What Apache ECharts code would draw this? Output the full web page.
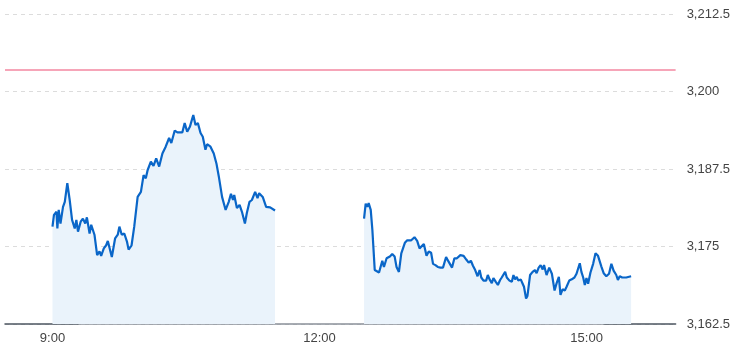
<!DOCTYPE html>
<html>
<head>
<meta charset="utf-8">
<script src="https://cdn.jsdelivr.net/npm/echarts@6/dist/echarts.min.js"></script>
<style>
html,body{margin:0;padding:0;background:#fff;}
#chart{width:733px;height:353px;}
</style>
</head>
<body>
<div id="chart"></div>
<script>
// Morning session (minutes after 9:00) and values
const morningMinutes = [0,1,2.7,3.3,4.2,5.4,7.1,8.3,10,11.6,13.2,15,16.1,17.2,19,20.5,22.1,23.2,25,26.1,28.3,30.1,31.7,32.8,34.6,36.2,37.3,40,42.2,44,45.1,46.7,48.4,50.2,51.3,53.3,55.1,57.4,58.5,59.6,61.4,62.9,64.1,65.2,66.3,68.1,69.9,71.9,74.1,76.3,78.6,80.1,82.4,84.2,87.5,89.1,90.8,92.6,94.9,96.4,98,99.8,101.3,103.1,104.2,106.5,108.7,110.5,112.1,114.3,115.4,116.7,118.8,120.3,121.7,122.5,124.3,126.1,127.7,129.7,131,132.8,134.4,136.6,138.2,139.3,141.7,144,146.7,150];
const morningValues = [3178.2,3180.1,3180.6,3177.9,3180.9,3178.7,3181.4,3182.2,3185.2,3182.5,3179.3,3177.9,3179.3,3177.4,3179.0,3179.5,3178.7,3179.7,3177.1,3178.5,3176.9,3173.6,3174.2,3173.5,3174.7,3175.2,3175.9,3173.3,3176.3,3176.9,3178.2,3176.9,3177.1,3175.8,3174.5,3175.2,3178.2,3183.0,3182.8,3183.8,3186.5,3186.0,3187.3,3187.1,3188.7,3188.0,3189.2,3187.9,3190.0,3191.1,3192.5,3191.7,3193.7,3193.4,3193.4,3194.9,3193.5,3194.3,3196.2,3194.6,3194.9,3193.3,3192.7,3190.6,3191.5,3191.1,3190.0,3188.4,3186.3,3183.0,3183.3,3180.9,3182.2,3183.5,3182.5,3183.3,3181.2,3181.7,3180.6,3178.7,3180.4,3182.2,3182.5,3183.8,3182.8,3183.6,3183.0,3181.4,3181.3,3180.8];

// Afternoon session (minutes after 12:30) and values
const afternoonMinutes = [0,1.1,2.2,3.1,4.5,5.6,7.2,8.5,10.1,11.2,12.3,13.4,15.2,17.4,19,20.6,21.9,23.5,25.1,26.4,27.5,29.1,30.2,31.8,34,35.8,37.4,38.5,40.3,42.1,43.6,45.2,46.5,48.1,49.7,51.5,53.2,55.3,56.4,57.7,59.3,60.9,62.6,64.9,67.1,68.9,70.5,72,73.4,74.9,76.5,77.9,79,80.5,82.3,83.4,84.6,86.1,87.2,88.8,90.2,91.7,92.8,94,95.1,96.2,98,99.6,100.7,101.8,102.9,104,105.6,106.9,107.8,109.2,110.1,111.9,113.6,115.2,116.3,117.7,119,120.4,121.3,123,124.8,126.6,128.4,129.8,131.3,132.4,133.8,135.3,136.5,138.3,140,141.8,143.2,144.5,145.4,146.5,147.7,148.8,149.9,151,152.6,154.4,156,157.7,158.8,159.9,161.5,163.3,165.1,166.7,168.2,170,171.1,172.3,174,176.7,180];
const afternoonValues = [3179.5,3181.9,3181.4,3182.0,3180.9,3177.7,3171.2,3170.9,3170.8,3170.5,3172.7,3171.7,3173.1,3173.4,3173.8,3173.4,3171.7,3170.9,3173.9,3174.0,3175.6,3176.0,3176.3,3176.0,3176.5,3175.9,3174.7,3174.9,3175.4,3173.5,3174.2,3174.0,3172.2,3172.0,3171.7,3171.6,3171.6,3173.3,3172.8,3173.1,3171.6,3173.1,3173.1,3173.6,3173.5,3172.9,3172.4,3172.7,3171.9,3171.2,3170.2,3171.2,3170.0,3169.5,3169.5,3170.4,3169.7,3169.1,3169.9,3169.3,3168.8,3169.6,3170.0,3169.7,3170.9,3170.0,3169.5,3169.3,3170.4,3169.7,3170.1,3169.5,3169.7,3169.0,3168.5,3166.6,3167.0,3170.4,3170.9,3171.2,3170.7,3171.6,3172.0,3171.3,3172.0,3170.4,3171.6,3170.6,3167.9,3169.1,3170.1,3167.2,3168.1,3167.9,3168.5,3169.5,3169.7,3170.0,3170.6,3170.8,3172.3,3170.9,3170.0,3168.8,3169.9,3169.0,3170.8,3172.2,3173.9,3173.5,3173.4,3171.8,3170.7,3170.2,3170.6,3172.2,3171.1,3170.4,3169.6,3170.2,3170.0,3170.0,3170.2];

const previousClose = 3203.5;
const xTickMinutes = [540, 720, 900]; // 9:00, 12:00, 15:00
const yTicks = [3162.5, 3175, 3187.5, 3200, 3212.5];

const morningStart = 540, afternoonStart = 750;
const morningData = morningMinutes.map((m, i) => [morningStart + m, morningValues[i]]);
const afternoonData = afternoonMinutes.map((m, i) => [afternoonStart + m, afternoonValues[i]]);

const lineColor = '#0a66c8';
const fillColor = '#eaf3fb';
const labelFont = 'Liberation Sans, Arial, sans-serif';

function seriesFor(name, data, withMark) {
  const s = {
    name, type: 'line', data, showSymbol: false, symbol: 'none',
    lineStyle: { color: lineColor, width: 2.2 },
    areaStyle: { color: fillColor, opacity: 1 },
    itemStyle: { color: lineColor },
    animation: false, z: 3
  };
  if (withMark) {
    s.markLine = {
      symbol: ['none', 'none'], silent: true, animation: false,
      label: { show: false },
      lineStyle: { color: '#f6a5b8', type: 'solid', width: 2 },
      data: [{ yAxis: previousClose }]
    };
  }
  return s;
}

const axisLineGradient = new echarts.graphic.LinearGradient(0, 0, 1, 0, [
  { offset: 0, color: '#4c5560' },
  { offset: 0.112, color: '#4c5560' },
  { offset: 0.113, color: '#8a9099' },
  { offset: 0.889, color: '#8a9099' },
  { offset: 0.89, color: '#4c5560' },
  { offset: 1, color: '#4c5560' }
]);

const chart = echarts.init(document.getElementById('chart'), null, { renderer: 'canvas' });
chart.setOption({
  animation: false,
  backgroundColor: '#fff',
  grid: { left: 5, right: 57, top: 14, bottom: 29, containLabel: false },
  xAxis: {
    type: 'value', min: 508, max: 960,
    axisLine: { show: true, lineStyle: { color: axisLineGradient, width: 1.5 } },
    axisTick: { show: false },
    splitLine: { show: false },
    axisLabel: {
      customValues: xTickMinutes,
      color: '#444', fontSize: 13, fontFamily: labelFont, margin: 8,
      formatter: v => Math.floor(v / 60) + ':' + String(Math.round(v % 60)).padStart(2, '0')
    }
  },
  yAxis: {
    type: 'value', position: 'right', min: yTicks[0], max: yTicks[yTicks.length - 1], interval: 12.5,
    axisLine: { show: false },
    axisTick: { show: false },
    splitLine: { show: true, lineStyle: { color: '#dcdcdc', type: [4, 4], width: 1 } },
    axisLabel: {
      color: '#444', fontSize: 13, fontFamily: labelFont, margin: 11,
      formatter: v => v.toLocaleString('en-US', { maximumFractionDigits: 1 })
    }
  },
  series: [
    seriesFor('morning', morningData, true),
    seriesFor('afternoon', afternoonData, false)
  ]
});
</script>
</body>
</html>
